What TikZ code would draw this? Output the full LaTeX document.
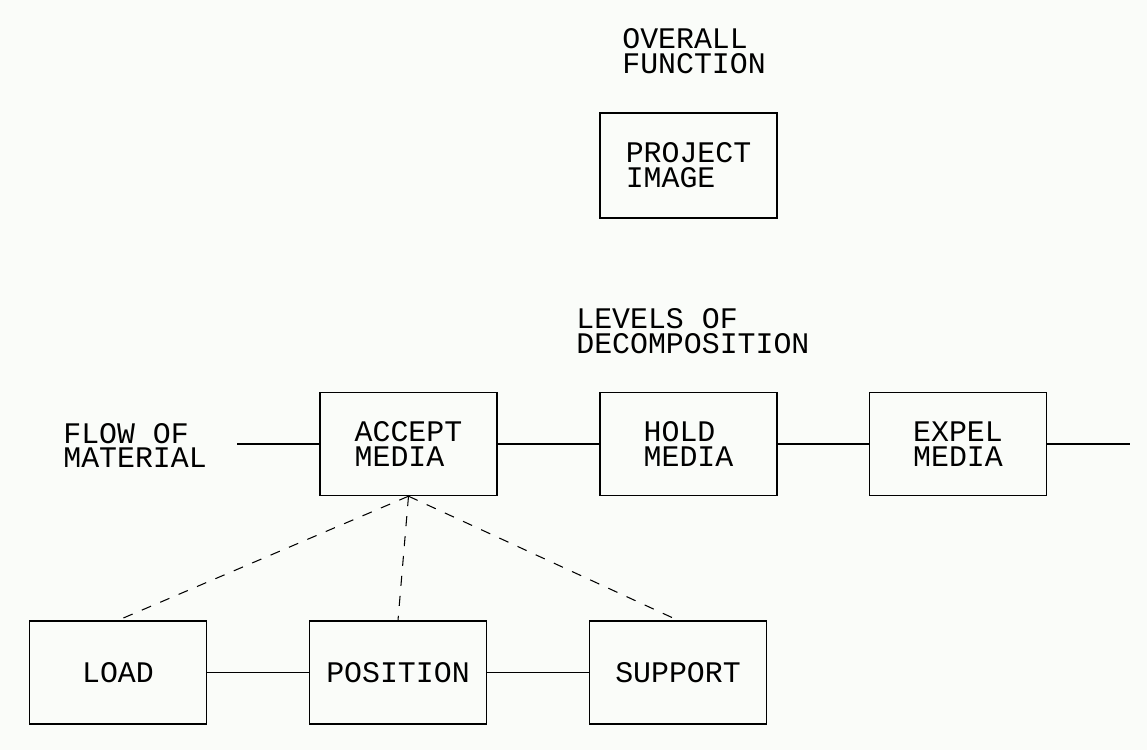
\documentclass[tikz,border=0pt]{standalone}
\usepackage{fontspec}
\setmonofont{Liberation Mono}
\definecolor{paper}{RGB}{250,252,249}

\begin{document}
\begin{tikzpicture}[
	every node/.style={font=\ttfamily\fontsize{17}{14.2}\selectfont},
	fn/.style={draw, line width=0.8pt, minimum width=3.54cm, minimum height=2.06cm, align=left, inner sep=0pt},
	lbl/.style={align=left, inner sep=0pt, anchor=west},
	dep/.style={dash pattern=on 0.2cm off 0.2cm, line width=0.6pt}]
	\fill[paper] (0, 0) rectangle (22.94, 15);
	% overall function
	\node[lbl] (overall) at (12.44, 13.97){OVERALL\\FUNCTION};
	\node[fn, minimum height=2.1cm] (project) at (13.77, 11.69){PROJECT\\IMAGE};
	% first level
	\node[lbl] (levels) at (11.52, 8.37){LEVELS OF\\DECOMPOSITION};
	\node[lbl] (flow) at (1.26, 6.09){FLOW OF\\MATERIAL};
	\node[fn] (accept) at (8.17, 6.12){ACCEPT\\MEDIA};
	\node[fn] (hold) at (13.77, 6.12){HOLD\\MEDIA};
	\node[fn] (expel) at (19.16, 6.12){EXPEL\\MEDIA};
	\coordinate (in) at (4.74, 6.12);
	\coordinate (out) at (22.6, 6.12);
	\draw[line width=0.8pt] (in) -- (accept) (accept) -- (hold) (hold) -- (expel) (expel) -- (out);
	% second level
	\node[fn] (load) at (2.36, 1.55){LOAD};
	\node[fn] (position) at (7.96, 1.55){POSITION};
	\node[fn] (support) at (13.56, 1.55){SUPPORT};
	\draw[line width=0.8pt] (load) -- (position) (position) -- (support);
	\draw[dep] (accept.south) -- (load.north);
	\draw[dep] (accept.south) -- (position.north);
	\draw[dep] (accept.south) -- (support.north);
\end{tikzpicture}
\end{document}
